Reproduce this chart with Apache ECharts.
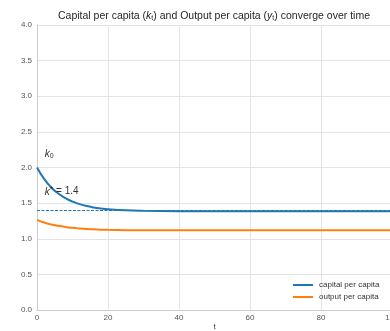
<!DOCTYPE html>
<html><head><meta charset="utf-8">
<script src="https://cdn.jsdelivr.net/npm/echarts@6/dist/echarts.min.js"></script>
<style>html,body{margin:0;padding:0;background:#fff}#c{width:390px;height:331px}</style>
</head><body><div id="c"></div>
<script>
const tValues = [0,2,4,6,8,10,12,14,16,18,20,25,30,40,50,60,70,80,90,100];
const capital = [2.00,1.84,1.72,1.634,1.569,1.521,1.486,1.459,1.44,1.426,1.415,1.399,1.392,1.387,1.386,1.385,1.385,1.385,1.385,1.385];
const output  = [1.265,1.228,1.201,1.181,1.165,1.153,1.144,1.137,1.132,1.128,1.125,1.121,1.119,1.118,1.118,1.118,1.118,1.118,1.118,1.118];
const kStar = 1.4;
const yTicks = [0,0.5,1,1.5,2,2.5,3,3.5,4];
const xTicks = [0,20,40,60,80,100];

const chart = echarts.init(document.getElementById('c'), null, {renderer:'canvas'});
const fontFam = '"Liberation Sans", Arial, sans-serif';
const option = {
  animation:false,
  backgroundColor:'#fff',
  textStyle:{fontFamily:fontFam},
  grid:{left:37, top:25, width:355, height:285, containLabel:false, outerBoundsMode:'none'},
  xAxis:{
    type:'value', min:0, max:100, interval:20,
    axisLine:{show:true,lineStyle:{color:'#cccccc',width:1}},
    axisTick:{show:false},
    axisLabel:{fontSize:8,color:'#555',margin:4,fontFamily:fontFam, formatter:v=>String(v)},
    splitLine:{show:true,lineStyle:{color:'#e3e3e3',width:1}}
  },
  yAxis:{
    type:'value', min:0, max:4, interval:0.5,
    axisLine:{show:true,lineStyle:{color:'#cccccc',width:1}},
    axisTick:{show:false},
    axisLabel:{fontSize:8,color:'#555',margin:5,fontFamily:fontFam, formatter:v=>v.toFixed(1)},
    splitLine:{show:true,lineStyle:{color:'#e3e3e3',width:1}}
  },
  legend:{
    orient:'vertical', left:293, top:281, padding:0, itemWidth:20, itemHeight:8, itemGap:4,
    icon:'path://M0,0 L20,0 L20,2 L0,2 Z',
    textStyle:{fontSize:8,color:'#333',fontFamily:fontFam,padding:[0,0,0,1]},
    data:['capital per capita','output per capita']
  },
  series:[
    {name:'capital per capita', type:'line', smooth:true, showSymbol:false, symbol:'none',
     data:tValues.map((t,i)=>[t,capital[i]]), lineStyle:{color:'#1f77b4',width:2}, itemStyle:{color:'#1f77b4'},
     markLine:{symbol:'none', silent:true, label:{show:false},
       lineStyle:{color:'#1f77b4',width:1,type:[3,1.5]},
       data:[[{coord:[0,kStar]},{coord:[100,kStar]}]]}
    },
    {name:'output per capita', type:'line', smooth:true, showSymbol:false, symbol:'none',
     data:tValues.map((t,i)=>[t,output[i]]), lineStyle:{color:'#ff7f0e',width:2}, itemStyle:{color:'#ff7f0e'}}
  ]
};
chart.setOption(option);
const p0 = chart.convertToPixel({gridIndex:0},[2.2,2.17]);
const p1 = chart.convertToPixel({gridIndex:0},[2.2,1.66]);
const pMid = chart.convertToPixel({gridIndex:0},[50,0]);
const T = {fontSize:10.5,fill:'#262626',fontFamily:fontFam,fontWeight:'normal'};
const A = {fontSize:10,fill:'#333',fontFamily:fontFam};
chart.setOption({graphic:[
  {type:'text', x:214, y:16, style:{
    text:'{n|Capital per capita (}{i|k}{s|t}{n|) and Output per capita (}{i|y}{s|t}{n|) converge over time}',
    align:'center', verticalAlign:'middle',
    rich:{n:T, i:Object.assign({},T,{fontStyle:'italic'}), s:Object.assign({},T,{fontSize:7,padding:[5,0,0,0]})}}},
  {type:'text', x:pMid[0], y:pMid[1]+17, style:{text:'t', align:'center', verticalAlign:'middle', fontSize:8, fill:'#333', fontFamily:fontFam}},
  {type:'text', left:p0[0], top:p0[1]-6, z:100, style:{
    text:'{i|k}{s|0}', rich:{i:Object.assign({},A,{fontStyle:'italic'}),s:Object.assign({},A,{fontSize:7,padding:[4,0,0,0]})}}},
  {type:'text', left:p1[0], top:p1[1]-7, z:100, style:{
    text:'{i|k}{p|*}{n| = 1.4}', rich:{i:Object.assign({},A,{fontStyle:'italic'}),p:Object.assign({},A,{fontSize:9,padding:[0,0,5,0]}),n:A}}}
]});
</script></body></html>
